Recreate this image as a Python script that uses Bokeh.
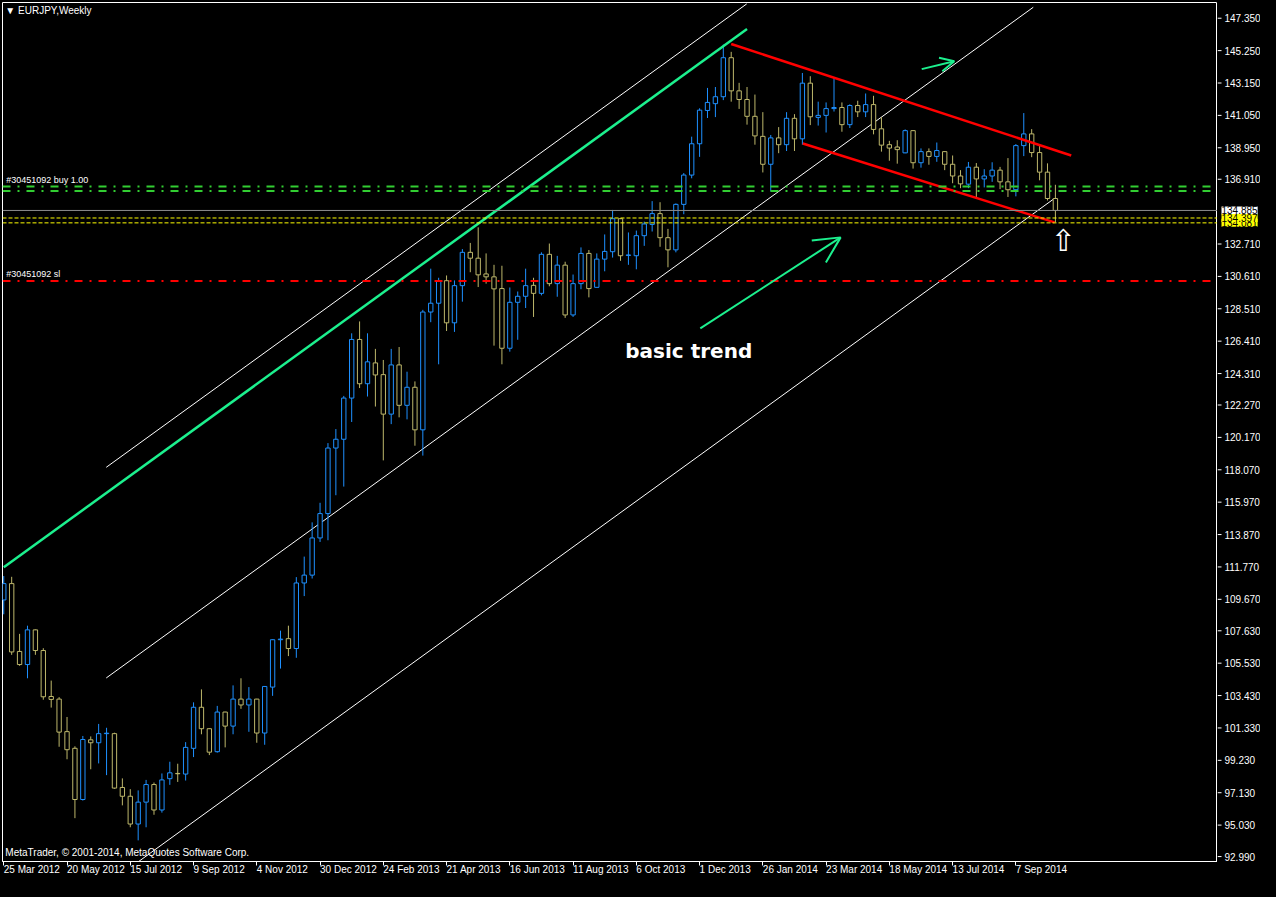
from bokeh.plotting import figure
from bokeh.layouts import row
from bokeh.models import ColumnDataSource, FixedTicker, Label, Span, Arrow, OpenHead, Range1d
from bokeh.embed import file_html
from bokeh.resources import INLINE
from bokeh.core.properties import value

# ---------------- data (EURJPY weekly, from 25 Mar 2012) ----------------
opens = [109.63, 110.69, 106.29, 105.44, 107.69, 106.35, 103.37, 103.20, 101.09, 100.01,
         96.69, 100.56, 100.37, 100.96, 100.96, 97.47, 96.90, 95.10, 96.52, 97.66,
         96.01, 98.04, 98.38, 98.34, 100.01, 102.67, 101.28, 99.79, 102.36, 101.45,
         103.20, 102.82, 103.20, 101.00, 103.98, 107.05, 107.12, 106.48, 110.73, 111.24,
         113.65, 115.23, 119.48, 120.05, 122.72, 126.52, 123.65, 125.00, 124.24, 121.68,
         124.87, 122.25, 123.42, 120.66, 128.30, 128.87, 130.33, 127.60, 130.01, 132.17,
         131.79, 130.77, 130.58, 129.82, 125.95, 128.93, 129.32, 130.03, 129.51, 132.04,
         130.14, 131.34, 128.11, 130.14, 132.10, 129.90, 131.73, 132.21, 134.35, 131.97,
         131.95, 133.25, 133.98, 134.68, 133.12, 132.33, 135.28, 137.18, 139.21, 141.37,
         141.81, 142.26, 144.79, 142.64, 142.08, 140.99, 139.69, 137.88, 139.59, 139.15,
         140.86, 139.53, 143.14, 140.92, 141.05, 141.49, 141.56, 140.45, 141.69, 141.28,
         141.75, 140.18, 139.15, 139.00, 138.62, 140.06, 137.98, 138.70, 138.39, 138.70,
         137.88, 137.12, 136.59, 137.69, 136.93, 137.12, 137.50, 136.74, 136.23, 139.09,
         139.85, 138.64, 137.37, 135.66]
highs = [111.18, 111.13, 107.43, 107.96, 107.72, 106.50, 104.40, 103.33, 102.04, 100.14,
         100.81, 100.78, 101.59, 101.34, 101.02, 98.06, 97.36, 97.28, 97.96, 97.79,
         98.38, 99.14, 99.01, 100.41, 102.99, 103.83, 101.30, 102.76, 102.38, 104.09,
         104.55, 103.98, 103.22, 104.05, 107.07, 107.64, 107.96, 111.11, 112.44, 114.66,
         115.93, 119.80, 120.71, 122.86, 126.92, 127.69, 126.92, 125.91, 125.19, 125.91,
         126.03, 124.43, 123.80, 128.44, 131.11, 130.52, 130.67, 130.35, 132.38, 132.78,
         133.79, 132.10, 131.36, 131.30, 129.89, 129.63, 131.11, 130.52, 132.17, 132.74,
         131.94, 131.56, 130.73, 132.49, 132.32, 132.10, 133.33, 134.92, 134.37, 133.46,
         133.58, 134.16, 135.49, 135.42, 133.69, 135.34, 137.31, 139.67, 141.51, 142.83,
         142.89, 145.64, 145.17, 143.16, 142.89, 142.40, 141.26, 139.78, 140.29, 141.26,
         141.13, 143.80, 143.59, 141.94, 141.89, 143.46, 141.89, 141.77, 142.00, 142.47,
         142.32, 140.94, 139.40, 139.44, 140.14, 140.08, 138.91, 138.91, 139.29, 138.72,
         138.45, 137.50, 138.03, 137.96, 137.56, 138.01, 137.71, 138.28, 139.19, 141.20,
         140.16, 139.19, 137.94, 136.55]
lows = [108.70, 106.07, 105.36, 104.55, 106.07, 103.16, 102.65, 100.11, 99.30, 95.48,
        96.62, 98.65, 99.03, 98.27, 97.39, 96.31, 94.89, 94.04, 94.89, 95.70,
        95.84, 97.64, 97.83, 97.92, 99.44, 100.92, 99.57, 99.73, 100.07, 100.92,
        102.57, 101.08, 100.37, 100.24, 103.41, 105.18, 105.99, 105.88, 109.88, 111.02,
        113.39, 113.50, 116.42, 116.98, 121.17, 123.37, 122.82, 122.17, 118.68, 121.03,
        121.47, 121.34, 119.63, 118.99, 127.64, 124.91, 127.07, 127.01, 128.97, 130.88,
        129.92, 130.14, 126.12, 124.91, 125.73, 126.50, 128.56, 127.98, 129.38, 129.97,
        129.29, 127.92, 127.98, 129.78, 129.25, 129.89, 130.94, 131.83, 131.62, 131.36,
        131.07, 132.59, 133.52, 132.53, 131.20, 132.17, 134.64, 136.97, 138.36, 140.88,
        140.94, 142.04, 141.94, 141.47, 140.45, 139.15, 137.35, 136.12, 138.60, 138.74,
        138.74, 139.15, 140.42, 140.39, 139.94, 141.30, 139.99, 140.23, 140.94, 140.94,
        139.82, 138.70, 138.11, 137.92, 138.60, 137.60, 137.66, 137.85, 138.04, 137.50,
        136.65, 136.33, 136.33, 135.70, 136.38, 136.74, 136.27, 135.76, 135.80, 138.41,
        138.34, 136.84, 135.53, 134.11]
closes = [110.69, 106.26, 105.44, 107.69, 106.35, 103.35, 103.18, 101.06, 99.92, 96.69,
          100.58, 100.37, 100.96, 100.99, 97.43, 96.90, 95.10, 96.52, 97.66, 96.01,
          97.96, 98.42, 98.36, 100.07, 102.67, 101.28, 99.76, 102.36, 101.45, 103.20,
          102.82, 103.20, 101.00, 104.02, 107.05, 107.09, 106.48, 110.73, 111.24, 113.65,
          115.23, 119.48, 120.05, 122.72, 126.52, 123.65, 125.07, 124.22, 121.68, 124.87,
          122.25, 123.42, 120.66, 128.30, 128.87, 130.31, 127.60, 130.01, 132.17, 131.79,
          130.71, 130.58, 129.80, 125.95, 128.93, 129.32, 130.01, 129.51, 132.04, 130.14,
          131.34, 128.11, 130.14, 132.10, 129.82, 131.73, 132.23, 134.35, 131.95, 132.00,
          133.25, 134.01, 134.68, 133.12, 132.33, 135.28, 137.18, 139.21, 141.39, 141.89,
          142.26, 144.79, 142.64, 142.08, 140.99, 139.72, 137.88, 139.59, 139.15, 140.86,
          139.53, 143.14, 140.96, 141.05, 141.49, 141.56, 140.45, 141.69, 141.28, 141.75,
          140.14, 139.12, 138.93, 138.83, 140.06, 137.98, 138.70, 138.39, 138.77, 137.88,
          137.12, 136.61, 137.69, 136.93, 137.12, 137.50, 136.74, 136.23, 139.09, 139.85,
          138.64, 137.37, 135.66, 134.885]

x_tick_pos = [0, 8, 16, 24, 32, 40, 48, 56, 64, 72, 80, 88, 96, 104, 112, 120, 128]
x_tick_labels = ["25 Mar 2012", "20 May 2012", "15 Jul 2012", "9 Sep 2012", "4 Nov 2012",
                 "30 Dec 2012", "24 Feb 2013", "21 Apr 2013", "16 Jun 2013", "11 Aug 2013",
                 "6 Oct 2013", "1 Dec 2013", "26 Jan 2014", "23 Mar 2014", "18 May 2014",
                 "13 Jul 2014", "7 Sep 2014"]
y_tick_labels = ["147.350", "145.250", "143.150", "141.050", "138.950", "136.910",
                 "132.710", "130.610", "128.510", "126.410", "124.310", "122.270",
                 "120.170", "118.070", "115.970", "113.870", "111.770", "109.670",
                 "107.630", "105.530", "103.430", "101.330", "99.230", "97.130",
                 "95.030", "92.990"]
y_tick_pos = [float(s) for s in y_tick_labels]

# order / price levels
bid_price = 134.885
tp_prices = [134.397, 134.081]
buy_levels = [136.44, 136.14]
sl_level = 130.31

# drawn trend lines: (bar index, price) endpoints
green_trend_x = [0.0, 94.0]
green_trend_y = [111.75, 146.65]
chan_upper_x = [12.96, 93.96]
chan_upper_y = [118.23, 148.28]
chan_mid_x = [12.96, 130.2]
chan_mid_y = [104.57, 148.06]
chan_low_x = [17.06, 132.7]
chan_low_y = [92.67, 135.60]
red_upper_x = [92.0, 135.0]
red_upper_y = [145.68, 138.45]
red_lower_x = [101.05, 132.9]
red_lower_y = [139.23, 134.11]

BLUE = "#1E90FF"
KHAKI = "#BDB76B"
MINT = "#1CF08E"
FONT = "Liberation Sans"
FRAME_H = 859
BOTTOM = 20
Y_LO, Y_HI = 92.67, 148.37

n = len(opens)
xs = list(range(n))
colors = [BLUE if c > o else KHAKI for o, c in zip(opens, closes)]
src = ColumnDataSource(dict(
    x=xs, h=highs, l=lows,
    top=[max(o, c) for o, c in zip(opens, closes)],
    bottom=[min(o, c) for o, c in zip(opens, closes)],
    color=colors))

p = figure(width=1217, frame_height=FRAME_H, x_range=(-0.16, 153.5),
           y_range=Range1d(Y_LO, Y_HI),
           output_backend="svg", toolbar_location=None, y_axis_location=None,
           background_fill_color="black", border_fill_color="black",
           min_border_left=2, min_border_top=2, min_border_right=0,
           min_border_bottom=BOTTOM)
p.grid.visible = False
p.outline_line_color = "white"
p.outline_line_width = 1

ax = p.xaxis[0]
ax.axis_line_color = "white"
ax.major_tick_line_color = "white"
ax.minor_tick_line_color = None
ax.major_tick_in = 0
ax.major_tick_out = 4
ax.major_label_text_color = "white"
ax.major_label_text_font = FONT
ax.major_label_text_font_size = "10px"
ax.ticker = FixedTicker(ticks=x_tick_pos)
ax.major_label_overrides = {t: s for t, s in zip(x_tick_pos, x_tick_labels)}
ax.major_label_orientation = -1e-6   # tiny negative angle -> labels start at the tick
ax.major_label_standoff = 4

# horizontal levels
for lv in buy_levels:
    p.add_layout(Span(location=lv, dimension="width", line_color="#32CD32",
                      line_width=2, line_dash="8 7 2 7"))
p.add_layout(Span(location=sl_level, dimension="width", line_color="#FF0000",
                  line_width=2, line_dash="8 7 2 7"))
p.add_layout(Span(location=bid_price, dimension="width", line_color="#8C8C8C", line_width=1))
for tp in tp_prices:
    p.add_layout(Span(location=tp, dimension="width", line_color="#FFFF00",
                      line_width=1, line_dash="4 2"))

# channel lines
p.line(chan_upper_x, chan_upper_y, line_color="white", line_width=1)
p.line(chan_mid_x, chan_mid_y, line_color="white", line_width=1)
p.line(chan_low_x, chan_low_y, line_color="white", line_width=1)

# candles
p.segment(x0="x", y0="l", x1="x", y1="h", line_color="color", line_width=1, source=src)
p.vbar(x="x", top="top", bottom="bottom", width=0.55, fill_color="black",
       line_color="color", line_width=1, source=src)

# trend lines
p.line(green_trend_x, green_trend_y, line_color=MINT, line_width=2.5)
p.line(red_upper_x, red_upper_y, line_color="#FF0000", line_width=2.5)
p.line(red_lower_x, red_lower_y, line_color="#FF0000", line_width=2.5)

# arrows
p.add_layout(Arrow(end=OpenHead(size=26, line_color=MINT, line_width=2),
                   x_start=88.09, y_start=127.24, x_end=105.84, y_end=133.14,
                   line_color=MINT, line_width=2))
p.add_layout(Arrow(end=OpenHead(size=14, line_color=MINT, line_width=2),
                   x_start=116.09, y_start=144.05, x_end=120.21, y_end=144.56,
                   line_color=MINT, line_width=2))

# texts
p.text(x=[78.6], y=[125.78], text=["basic trend"], text_color="white",
       text_font=value("DejaVu Sans"), text_font_style="bold", text_font_size="20px",
       text_baseline="middle", text_align="left")
p.text(x=[134.0], y=[132.95], text=["\u21e7"], text_color="white",
       text_font=value("DejaVu Sans"), text_font_size="30px",
       text_baseline="middle", text_align="center")

p.add_layout(Label(x=0.2, y=148.2, text="\u25bc EURJPY,Weekly", text_color="white",
                   text_font=FONT, text_font_size="10px", text_baseline="top"))
p.add_layout(Label(x=0.2, y=93.24, text="MetaTrader, \u00a9 2001-2014, MetaQuotes Software Corp.",
                   text_color="white", text_font=FONT, text_font_size="10px",
                   text_baseline="middle"))
p.add_layout(Label(x=0.3, y=buy_levels[0], y_offset=1, text="#30451092 buy 1.00",
                   text_color="white", text_font=FONT, text_font_size="9px",
                   text_baseline="bottom"))
p.add_layout(Label(x=0.3, y=sl_level, y_offset=2, text="#30451092 sl",
                   text_color="white", text_font=FONT, text_font_size="9px",
                   text_baseline="bottom"))

# ---------------- price scale, same price-per-pixel as the chart ----------------
upp = (Y_HI - Y_LO) / FRAME_H
ps = figure(width=43, frame_height=FRAME_H + BOTTOM, x_range=(0, 43),
            y_range=Range1d(Y_LO - BOTTOM * upp, Y_HI),
            output_backend="svg", toolbar_location=None,
            x_axis_location=None, y_axis_location=None,
            background_fill_color="black", border_fill_color="black",
            min_border_left=0, min_border_right=0, min_border_top=2, min_border_bottom=0)
ps.grid.visible = False
ps.outline_line_color = None
ps.segment(x0=[0] * len(y_tick_pos), x1=[4] * len(y_tick_pos), y0=y_tick_pos, y1=y_tick_pos,
           line_color="white", line_width=1)
ps.text(x=[7] * len(y_tick_pos), y=y_tick_pos, text=y_tick_labels, text_color="white",
        text_font=value(FONT), text_font_size="10px", text_baseline="middle",
        text_align="left")
for val, txt, bg in [(tp_prices[1], "134.081", "#FFFF00"),
                     (bid_price, "134.885", "white"),
                     (tp_prices[0], "134.397", "#FFFF00")]:
    ps.add_layout(Label(x=4, y=val, text=txt, text_color="black", text_font=FONT,
                        text_font_size="10px", text_baseline="middle",
                        background_fill_color=bg))

layout = row(p, ps, spacing=0)
PAGE_STYLE = "{% block postamble %}<style>html, body { background-color: #000000; }</style>{% endblock %}"
open("out.html", "w").write(file_html(layout, INLINE, template=PAGE_STYLE))
